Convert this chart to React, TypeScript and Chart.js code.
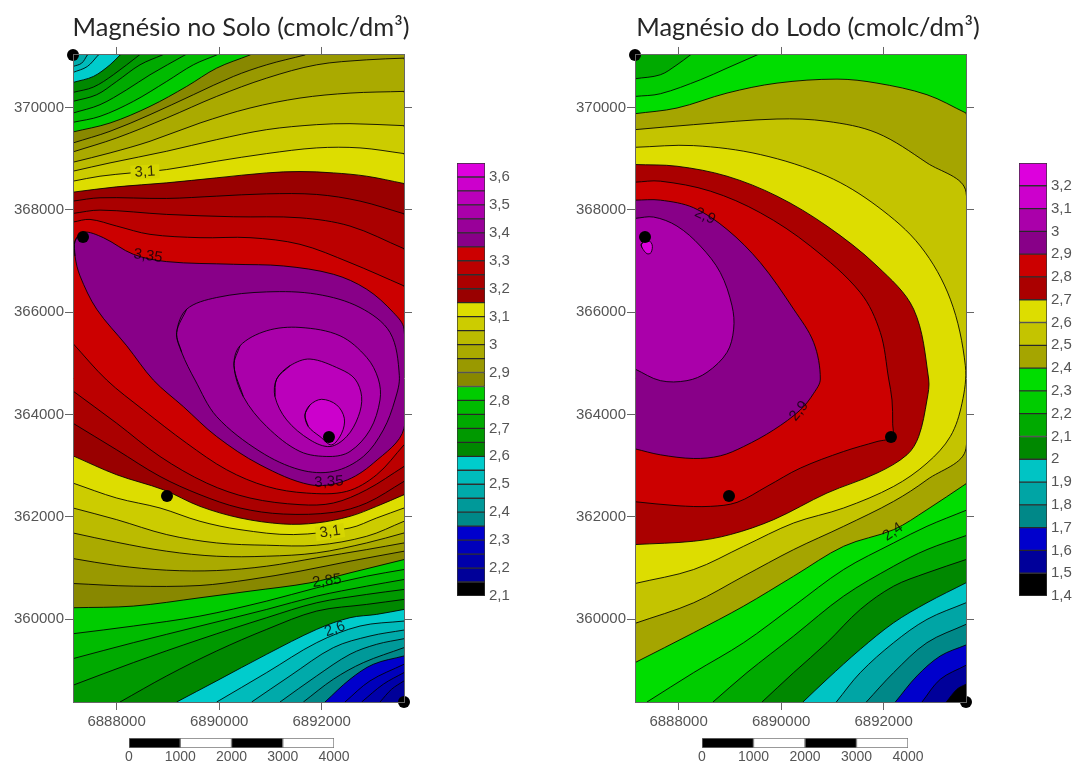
import React, { useEffect, useRef } from "react";
import { Chart, registerables } from "chart.js";

Chart.register(...registerables);

// Map extent (metres); contour paths below are offsets from the SW corner.
const WEST = 6887150;
const SOUTH = 358380;
const SPAN_E = 6455;
const SPAN_N = 12650;
const W = SPAN_E;
const H = SPAN_N;

const soloTitle = "Magnésio no Solo (cmolc/dm³)";
const lodoTitle = "Magnésio do Lodo (cmolc/dm³)";

const eastTicks = [6888000, 6890000, 6892000];
const northTicks = [360000, 362000, 364000, 366000, 368000, 370000];

const sampleEast = [0, 195, 4992, 1833, 6455];
const sampleNorth = [12650, 9091, 5181, 4027, 0];

const soloBaseColor = "#009999";
const soloBandColors = [
  "#00aaaa", "#00bbbb", "#00cccc", "#008800", "#009900", "#00aa00", "#00bb00", "#00cc00",
  "#888800", "#999900", "#aaaa00", "#bbbb00", "#cccc00", "#dddd00",
  "#990000", "#aa0000", "#bb0000", "#cc0000",
  "#880088", "#990099", "#aa00aa", "#bb00bb", "#cc00cc",
  "#bb0000", "#aa0000", "#990000", "#dddd00", "#cccc00", "#bbbb00", "#aaaa00", "#999900", "#888800",
  "#00cc00", "#00bb00", "#00aa00", "#009900", "#008800",
  "#00cccc", "#00bbbb", "#00aaaa", "#009999", "#008888",
  "#0000cc", "#0000bb", "#0000aa", "#000099",
];
const soloPaths: number[][] = [
  [0, 12535, 45, 12585, 91, H],
  [0, 12425, 169, 12490, 280, H],
  [0, 12308, 280, 12425, 494, H],
  [0, 12113, 397, 12230, 722, 12458, 917, H],
  [0, 11918, 397, 12022, 787, 12263, 1294, H],
  [0, 11743, 462, 11873, 852, 12133, 1307, 12458, 1742, H],
  [0, 11515, 527, 11678, 1047, 11970, 1502, 12263, 2184, H],
  [0, 11333, 527, 11450, 1177, 11743, 1827, 12133, 2347, 12458, 2802, H],
  [0, 11145, 722, 11320, 1502, 11645, 2217, 12035, 2802, 12393, 3452, H],
  [0, 10930, 722, 11158, 1502, 11483, 2347, 11873, 3127, 12230, 3777, 12458, 4524, H],
  [0, 10755, 852, 11028, 1827, 11418, 2802, 11840, 3777, 12198, 4752, 12458, 5727, 12555, W, 12588],
  [0, 10553, 722, 10735, 1502, 10963, 2477, 11320, 3452, 11613, 4427, 11808, 5402, 11905, W, 11938],
  [0, 10378, 722, 10540, 1827, 10768, 2802, 10995, 3777, 11190, 4752, 11288, 5402, 11307, W, 11268],
  [0, 10183, 527, 10280, 1144, 10345, 1827, 10410, 2802, 10573, 3777, 10722, 4752, 10833, 5597, 10833, W, 10722],
  [0, 9968, 852, 10072, 1827, 10150, 2802, 10248, 3777, 10345, 4427, 10371, 5077, 10345, 5727, 10280, W, 10137],
  [0, 9793, 527, 9858, 1827, 9845, 2802, 9890, 3777, 9935, 4752, 9923, 5597, 9793, W, 9545],
  [0, 9552, 527, 9617, 1827, 9533, 3127, 9487, 4427, 9467, 5402, 9305, W, 8863],
  [0, 9383, 332, 9435, 852, 9305, 1502, 9143, 2477, 9078, 3452, 9078, 4427, 8948, 5402, 8590, W, 8135],
  [39, 9013, 202, 9188, 592, 9078, 1177, 8753, 1827, 8610, 3127, 8558, 4102, 8525, 5077, 8363, 5727, 8070, 6247, 7615, W, 7290, W, 5352, 5857, 4670, 5272, 4313, 4622, 4248, 3647, 4638, 2802, 5190, 2152, 5775, 1567, 6295, 1047, 6965, 462, 7680, 137, 8330, 39, 8720],
  [2022, 7225, 2217, 7680, 2802, 7908, 3777, 8018, 4752, 7973, 5597, 7713, 6182, 7225, 6364, 6380, 6279, 5905, 6052, 5320, 5662, 4800, 5077, 4508, 4427, 4540, 3647, 4898, 2802, 5580, 2380, 6295, 2120, 6835],
  [3140, 6575, 3257, 6965, 3777, 7258, 4427, 7323, 5207, 7160, 5727, 6738, 5954, 6315, 5987, 5905, 5792, 5320, 5402, 4898, 5012, 4800, 4427, 4898, 3777, 5385, 3322, 5970],
  [3972, 6315, 4232, 6575, 4622, 6705, 5207, 6510, 5499, 6315, 5629, 5970, 5564, 5580, 5337, 5190, 5012, 4995, 4622, 5125, 4167, 5515, 3939, 5970],
  [4524, 5612, 4622, 5808, 4849, 5918, 5142, 5808, 5291, 5548, 5239, 5255, 5044, 5028, 4817, 5190, 4589, 5385],
  [0, 7010, 657, 6295, 1372, 5710, 2217, 5060, 2997, 4540, 3777, 4215, 4557, 4085, 5337, 4118, 5922, 4443, W, 5027],
  [0, 6080, 852, 5450, 1697, 4800, 2607, 4280, 3452, 3988, 4427, 3858, 5077, 3890, 5727, 4150, W, 4605],
  [0, 5450, 852, 4930, 1697, 4410, 2477, 4053, 3257, 3793, 4102, 3675, 5077, 3708, 5727, 3890, W, 4313],
  [0, 4813, 852, 4443, 1762, 4150, 2477, 3825, 3257, 3598, 4102, 3480, 4752, 3500, 5402, 3630, 5922, 3825, W, 4053],
  [0, 4280, 852, 3988, 1697, 3793, 2477, 3533, 3257, 3370, 4297, 3273, 5402, 3403, 5922, 3598, W, 3793],
  [0, 3793, 852, 3565, 1827, 3273, 2802, 3110, 3777, 3065, 4752, 3065, 5727, 3240, W, 3533],
  [0, 3305, 852, 3123, 1827, 2948, 2802, 2850, 3777, 2850, 4752, 2915, 5727, 3110, W, 3305],
  [0, 2805, 852, 2668, 1827, 2577, 2802, 2570, 3777, 2655, 4752, 2818, 5727, 2980, W, 3110],
  [0, 2317, 1177, 2265, 2477, 2278, 3452, 2395, 4427, 2558, 5402, 2753, W, 2948],
  [0, 1843, 1177, 1875, 2477, 2038, 3452, 2168, 4622, 2330, 5402, 2525, W, 2785],
  [0, 1335, 1177, 1485, 2477, 1680, 3777, 1973, 4752, 2233, 5727, 2460, W, 2590],
  [0, 848, 1177, 1160, 2477, 1485, 3777, 1810, 4752, 2070, 5727, 2265, W, 2395],
  [0, 328, 1177, 770, 2477, 1225, 3777, 1648, 4752, 1940, 5727, 2103, W, 2200],
  [917, 0, 1827, 510, 2802, 998, 3777, 1420, 4752, 1778, 5727, 1908, W, 2005],
  [2022, 0, 2802, 413, 3777, 933, 4752, 1420, 5402, 1648, 5922, 1713, W, 1810],
  [2802, 0, 3777, 575, 4752, 1160, 5597, 1485, W, 1583],
  [3484, 0, 4232, 510, 5077, 1063, 5792, 1290, W, 1407],
  [4037, 0, 4752, 510, 5402, 933, 5922, 1128, W, 1238],
  [4492, 0, 5077, 445, 5662, 770, W, 1063],
  [4914, 0, 5402, 445, 5857, 738, W, 900],
  [5304, 0, 5792, 413, W, 738],
  [5629, 0, 6052, 348, W, 575],
  [5987, 0, 6214, 250, W, 413],
];

const lodoBaseColor = "#00aa00";
const lodoBandColors = [
  "#00cc00", "#00dd00", "#a5a500", "#c4c400", "#dddd00", "#aa0000", "#cc0000", "#880088", "#aa00aa", "#dd00dd",
  "#00dd00", "#00cc00", "#00aa00", "#008800", "#00c4c4", "#00a5a5", "#008888", "#0000cc", "#00009a", "#000000",
];
const lodoPaths: number[][] = [
  [0, 12185, 494, 12263, 819, 12458, 1079, H],
  [0, 11840, 494, 11892, 1274, 12165, 1794, 12393, 2379, H],
  [0, 11502, 819, 11613, 1794, 11905, 2769, 12100, 3939, 12178, 4719, 12100, 5694, 11873, W, 11515],
  [0, 11190, 1144, 11288, 2769, 11398, 3744, 11353, 4719, 11125, 5694, 10540, W, 9968, W, 4962, 5694, 4345, 5044, 3923, 4069, 3435, 3094, 2980, 2119, 2460, 1144, 1940, 0, 1537],
  [0, 10845, 1144, 10878, 2444, 10703, 3744, 10280, 4719, 9695, 5564, 8915, 6149, 7875, 6442, 6575, 6377, 5840, 6149, 5190, 5694, 4670, 5044, 4215, 4069, 3793, 3094, 3500, 2119, 3045, 1144, 2590, 0, 2317],
  [0, 10508, 819, 10475, 1794, 10280, 2769, 9890, 3744, 9305, 4719, 8525, 5434, 7680, 5727, 6315, 5694, 5905, 5532, 5190, 5304, 4833, 4719, 4475, 3744, 4085, 2704, 3565, 1859, 3273, 1144, 3143, 0, 3078],
  [0, 10163, 494, 10183, 1469, 9988, 2444, 9565, 3419, 8915, 4394, 8005, 4784, 7225, 4947, 6315, 5012, 5905, 5025, 5450, 5012, 5177, 4719, 5092, 4069, 4898, 3224, 4573, 2574, 4215, 1989, 3903, 1469, 3825, 819, 3838, 0, 3916],
  [0, 9812, 494, 9812, 1144, 9663, 1794, 9240, 2444, 8590, 3094, 7680, 3484, 7030, 3614, 6315, 3484, 6035, 3224, 5710, 2704, 5320, 2119, 4995, 1664, 4813, 1144, 4761, 494, 4833, 0, 4950],
  [0, 9455, 364, 9481, 819, 9305, 1274, 8915, 1664, 8395, 1892, 7745, 1924, 7290, 1794, 6835, 1404, 6445, 1014, 6283, 494, 6283, 0, 6510],
  [124, 8948, 221, 9045, 332, 8948, 312, 8785, 234, 8765, 137, 8883],
  [0, 770, 1144, 1355, 2119, 1875, 3094, 2460, 4069, 3045, 5044, 3370, 5694, 3760, W, 4267],
  [234, 0, 1144, 575, 2119, 1160, 3094, 1875, 4069, 2590, 5044, 3110, 5694, 3435, W, 3747],
  [1521, 0, 2184, 575, 3094, 1290, 4069, 2070, 5044, 2655, 5694, 2980, W, 3253],
  [2477, 0, 3094, 575, 3744, 1160, 4394, 1810, 5044, 2265, 5694, 2525, W, 2785],
  [3276, 0, 3744, 445, 4394, 1030, 5044, 1550, 5694, 1940, W, 2330],
  [3926, 0, 4394, 575, 5044, 1160, 5694, 1615, W, 1940],
  [4511, 0, 5044, 575, 5694, 1160, W, 1518],
  [5077, 0, 5499, 510, 5954, 900, W, 1115],
  [5597, 0, 5954, 445, W, 718],
  [6071, 0, 6279, 250, W, 348],
];

const soloLabelText = ["3,1", "3,35", "3,35", "3,1", "2,85", "2,6"];
const soloLabelEast = [1404, 1462, 4992, 5012, 4953, 5109];
const soloLabelNorth = [10362, 8719, 4301, 3324, 2366, 1427];
const soloLabelAngle = [-3, 8, -3, -8, -8, -20];
const soloLabelMask = ["#d6d600", "", "", "#d6d600", "", ""];
const lodoLabelText = ["2,9", "2,9", "2,4"];
const lodoLabelEast = [1365, 3198, 5031];
const lodoLabelNorth = [9501, 5689, 3324];
const lodoLabelAngle = [25, -50, -35];
const lodoLabelMask = ["", "", ""];

const soloLegendLevels = [2.1, 2.15, 2.2, 2.25, 2.3, 2.35, 2.4, 2.45, 2.5, 2.55, 2.6, 2.65, 2.7, 2.75, 2.8, 2.85, 2.9, 2.95, 3, 3.05, 3.1, 3.15, 3.2, 3.25, 3.3, 3.35, 3.4, 3.45, 3.5, 3.55, 3.6, 3.65];
const soloLegendColors = [
  "#000000", "#000099", "#0000aa", "#0000bb", "#0000cc", "#008888", "#009999", "#00aaaa", "#00bbbb", "#00cccc",
  "#008800", "#009900", "#00aa00", "#00bb00", "#00cc00", "#888800", "#999900", "#aaaa00", "#bbbb00", "#cccc00", "#dddd00",
  "#990000", "#aa0000", "#bb0000", "#cc0000", "#880088", "#990099", "#aa00aa", "#bb00bb", "#cc00cc", "#dd00dd",
];
const soloLegendTicks = [2.1, 2.2, 2.3, 2.4, 2.5, 2.6, 2.7, 2.8, 2.9, 3, 3.1, 3.2, 3.3, 3.4, 3.5, 3.6];
const lodoLegendLevels = [1.4, 1.5, 1.6, 1.7, 1.8, 1.9, 2, 2.1, 2.2, 2.3, 2.4, 2.5, 2.6, 2.7, 2.8, 2.9, 3, 3.1, 3.2, 3.3];
const lodoLegendColors = [
  "#000000", "#00009a", "#0000cc", "#008888", "#00a5a5", "#00c4c4", "#008800", "#00aa00", "#00cc00", "#00dd00",
  "#a5a500", "#c4c400", "#dddd00", "#aa0000", "#cc0000", "#880088", "#aa00aa", "#cc00cc", "#dd00dd",
];
const lodoLegendTicks = [1.4, 1.5, 1.6, 1.7, 1.8, 1.9, 2, 2.1, 2.2, 2.3, 2.4, 2.5, 2.6, 2.7, 2.8, 2.9, 3, 3.1, 3.2];

const scaleBarSegments = [1000, 1000, 1000, 1000];
const scaleBarColors = ["#000000", "#ffffff", "#000000", "#ffffff"];

const AXIS_GRAY = "#666666";
const TEXT_GRAY = "#555555";
const FAR = 4000;
const SOFT = "blur(0.45px)";

function comma(v: number) {
  return String(Math.round(v * 10) / 10).replace(".", ",");
}

function sideOf(x: number, y: number) {
  if (y === H) return 0;
  if (x === W) return 1;
  if (y === 0) return 2;
  if (x === 0) return 3;
  return -1;
}

// Close a contour clockwise round the outside of the map, or wrap a ring onto itself.
function closedPoints(path: number[]) {
  let pts: { x: number; y: number }[] = [];
  for (let i = 0; i < path.length; i += 2) pts.push({ x: path[i], y: path[i + 1] });
  const first = pts[0];
  const last = pts[pts.length - 1];
  let s = sideOf(last.x, last.y);
  const end = sideOf(first.x, first.y);
  if (s >= 0 && end >= 0) {
    pts.push({ ...last });
    const corners = [
      { x: W + FAR, y: H + FAR },
      { x: W + FAR, y: -FAR },
      { x: -FAR, y: -FAR },
      { x: -FAR, y: H + FAR },
    ];
    while (s !== end) {
      pts.push(corners[s]);
      s = (s + 1) % 4;
    }
  } else if (s < 0 && end < 0) {
    pts = [last, ...pts, first, pts[1]];
  }
  return pts.map((p) => ({ x: WEST + p.x, y: SOUTH + p.y }));
}

const useTicks = (values: number[]) => (s: any) => {
  s.ticks = values.map((value) => ({ value }));
};

function mapConfig(o: {
  title: string;
  base: string;
  colors: string[];
  paths: number[][];
  labelText: string[];
  labelEast: number[];
  labelNorth: number[];
  labelAngle: number[];
  labelMask: string[];
  leftW: number;
  rightW: number;
}) {
  const total = o.paths.length + 2;
  const datasets: any[] = [
    {
      data: [
        { x: WEST - FAR, y: SOUTH + H + FAR },
        { x: WEST + W + FAR, y: SOUTH + H + FAR },
        { x: WEST + W + FAR, y: SOUTH - FAR },
        { x: WEST - FAR, y: SOUTH - FAR },
      ],
      showLine: true,
      fill: "shape",
      backgroundColor: o.base,
      borderWidth: 0,
      tension: 0,
      pointRadius: 0,
      clip: 0,
      order: total,
    },
  ];
  o.paths.forEach((p, i) => {
    datasets.push({
      data: closedPoints(p),
      showLine: true,
      fill: "shape",
      backgroundColor: o.colors[i],
      borderColor: "rgba(0,0,0,0.85)",
      borderWidth: 1,
      tension: 0.34,
      capBezierPoints: false,
      pointRadius: 0,
      clip: 0,
      order: total - 1 - i,
    });
  });
  datasets.push({
    data: sampleEast.map((e, i) => ({ x: WEST + e, y: SOUTH + sampleNorth[i] })),
    showLine: false,
    pointRadius: 6,
    pointHoverRadius: 6,
    pointBackgroundColor: "#000000",
    pointBorderWidth: 0,
    clip: false,
    order: 0,
  });
  const fixW = (v: number) => (s: any) => {
    s.width = v;
  };
  const fixH = (v: number) => (s: any) => {
    s.height = v;
  };
  const axisBase = {
    type: "linear",
    border: { display: true, color: AXIS_GRAY, z: 1 },
    grid: { drawOnChartArea: false, drawTicks: true, tickLength: 8, color: AXIS_GRAY },
  };
  const tickFont = { family: "'Liberation Sans'", size: 15 };
  const xBounds = { min: WEST, max: WEST + SPAN_E };
  const yBounds = { min: SOUTH, max: SOUTH + SPAN_N };
  const labelsPlugin = {
    id: "contourLabels",
    afterDatasetsDraw(chart: any) {
      const { ctx, scales } = chart;
      ctx.save();
      o.labelText.forEach((t, i) => {
        const px = scales.x.getPixelForValue(WEST + o.labelEast[i]);
        const py = scales.y.getPixelForValue(SOUTH + o.labelNorth[i]);
        ctx.save();
        ctx.translate(px, py);
        ctx.rotate((o.labelAngle[i] * Math.PI) / 180);
        ctx.font = "15px 'Liberation Sans'";
        ctx.textAlign = "center";
        ctx.textBaseline = "middle";
        if (o.labelMask[i]) {
          const w = ctx.measureText(t).width + 8;
          ctx.fillStyle = o.labelMask[i];
          ctx.fillRect(-w / 2, -7, w, 14);
        }
        ctx.fillStyle = "rgba(10,0,10,0.8)";
        ctx.fillText(t, 0, 0);
        ctx.restore();
      });
      ctx.restore();
    },
  };
  return {
    type: "scatter",
    data: { datasets },
    plugins: [labelsPlugin],
    options: {
      animation: false,
      responsive: false,
      devicePixelRatio: 1,
      events: [],
      layout: { padding: 0, autoPadding: false },
      plugins: {
        legend: { display: false },
        tooltip: { enabled: false },
        title: {
          display: true,
          text: o.title,
          align: "center",
          color: "#262626",
          font: { family: "Lato", size: 25.4, weight: "normal" },
          padding: { top: 13, bottom: 0 },
        },
      },
      scales: {
        x: {
          ...axisBase,
          ...xBounds,
          position: "bottom",
          afterFit: fixH(28),
          afterBuildTicks: useTicks(eastTicks),
          ticks: { autoSkip: false, maxRotation: 0, color: TEXT_GRAY, font: tickFont, padding: 3, callback: (v: number) => String(v) },
        },
        x2: {
          ...axisBase,
          ...xBounds,
          position: "top",
          afterFit: fixH(11.5),
          afterBuildTicks: useTicks(eastTicks),
          ticks: { autoSkip: false, display: false },
        },
        y: {
          ...axisBase,
          ...yBounds,
          position: "left",
          afterFit: fixW(o.leftW),
          afterBuildTicks: useTicks(northTicks),
          ticks: { autoSkip: false, color: TEXT_GRAY, font: tickFont, padding: 1, callback: (v: number) => String(v) },
        },
        y2: {
          ...axisBase,
          ...yBounds,
          position: "right",
          afterFit: fixW(o.rightW),
          afterBuildTicks: useTicks(northTicks),
          ticks: { autoSkip: false, display: false },
        },
      },
    },
  } as any;
}

function legendConfig(levels: number[], colors: string[], ticks: number[]) {
  return {
    type: "bar",
    data: {
      labels: [""],
      datasets: colors.map((c, i) => ({
        data: [[levels[i], levels[i + 1]]],
        backgroundColor: c,
        borderColor: "rgba(30,30,30,0.9)",
        borderWidth: 1,
        borderSkipped: false,
        grouped: false,
        barPercentage: 1,
        categoryPercentage: 1,
      })),
    },
    options: {
      animation: false,
      responsive: false,
      devicePixelRatio: 1,
      events: [],
      layout: { padding: { left: 7, top: 12, bottom: 14, right: 0 }, autoPadding: false },
      plugins: { legend: { display: false }, tooltip: { enabled: false } },
      scales: {
        x: { display: false },
        y: {
          position: "right",
          min: levels[0],
          max: levels[levels.length - 1],
          afterFit: (s: any) => {
            s.width = 35;
          },
          afterBuildTicks: useTicks(ticks),
          border: { display: false },
          grid: { display: false, drawTicks: false },
          ticks: {
            autoSkip: false,
            color: TEXT_GRAY,
            padding: 4,
            font: { family: "'Liberation Sans'", size: 15 },
            callback: (v: number) => comma(v),
          },
        },
      },
    },
  } as any;
}

function scaleBarConfig() {
  return {
    type: "bar",
    data: {
      labels: [""],
      datasets: scaleBarSegments.map((v, i) => ({
        data: [v],
        backgroundColor: scaleBarColors[i],
        borderColor: "#777777",
        borderWidth: 1,
        borderSkipped: false,
        barPercentage: 1,
        categoryPercentage: 1,
      })),
    },
    options: {
      indexAxis: "y",
      animation: false,
      responsive: false,
      devicePixelRatio: 1,
      events: [],
      layout: { padding: { left: 30, right: 30, top: 2, bottom: 0 }, autoPadding: false },
      plugins: { legend: { display: false }, tooltip: { enabled: false } },
      scales: {
        y: { display: false, stacked: true },
        x: {
          stacked: true,
          min: 0,
          max: 4000,
          afterFit: (s: any) => {
            s.height = 17;
          },
          border: { display: false },
          grid: { display: false, drawTicks: false },
          ticks: {
            stepSize: 1000,
            autoSkip: false,
            maxRotation: 0,
            color: TEXT_GRAY,
            padding: 1,
            font: { family: "'Liberation Sans'", size: 14 },
            callback: (v: number) => String(v),
          },
        },
      },
    },
  } as any;
}

const abs = (left: number, top: number): React.CSSProperties => ({ position: "absolute", left, top, filter: SOFT });

export default function App() {
  const soloMap = useRef<HTMLCanvasElement>(null);
  const lodoMap = useRef<HTMLCanvasElement>(null);
  const soloLegend = useRef<HTMLCanvasElement>(null);
  const lodoLegend = useRef<HTMLCanvasElement>(null);
  const soloBar = useRef<HTMLCanvasElement>(null);
  const lodoBar = useRef<HTMLCanvasElement>(null);

  useEffect(() => {
    const charts = [
      new Chart(
        soloMap.current!,
        mapConfig({
          title: soloTitle,
          base: soloBaseColor,
          colors: soloBandColors,
          paths: soloPaths,
          labelText: soloLabelText,
          labelEast: soloLabelEast,
          labelNorth: soloLabelNorth,
          labelAngle: soloLabelAngle,
          labelMask: soloLabelMask,
          leftW: 73,
          rightW: 78,
        })
      ),
      new Chart(
        lodoMap.current!,
        mapConfig({
          title: lodoTitle,
          base: lodoBaseColor,
          colors: lodoBandColors,
          paths: lodoPaths,
          labelText: lodoLabelText,
          labelEast: lodoLabelEast,
          labelNorth: lodoLabelNorth,
          labelAngle: lodoLabelAngle,
          labelMask: lodoLabelMask,
          leftW: 75,
          rightW: 90,
        })
      ),
      new Chart(soloLegend.current!, legendConfig(soloLegendLevels, soloLegendColors, soloLegendTicks)),
      new Chart(lodoLegend.current!, legendConfig(lodoLegendLevels, lodoLegendColors, lodoLegendTicks)),
      new Chart(soloBar.current!, scaleBarConfig()),
      new Chart(lodoBar.current!, scaleBarConfig()),
    ];
    return () => charts.forEach((c) => c.destroy());
  }, []);

  return (
    <div style={{ position: "absolute", left: 0, top: 0, width: 1073, height: 765, overflow: "hidden", background: "#fff" }}>
      <canvas ref={soloMap} width={482} height={730} style={abs(0, 0)} />
      <canvas ref={lodoMap} width={496} height={730} style={abs(560, 0)} />
      <canvas ref={soloLegend} width={70} height={460} style={abs(450, 150)} />
      <canvas ref={lodoLegend} width={70} height={460} style={abs(1012, 150)} />
      <canvas ref={soloBar} width={265} height={29} style={abs(99, 736)} />
      <canvas ref={lodoBar} width={266} height={29} style={abs(672, 736)} />
    </div>
  );
}
